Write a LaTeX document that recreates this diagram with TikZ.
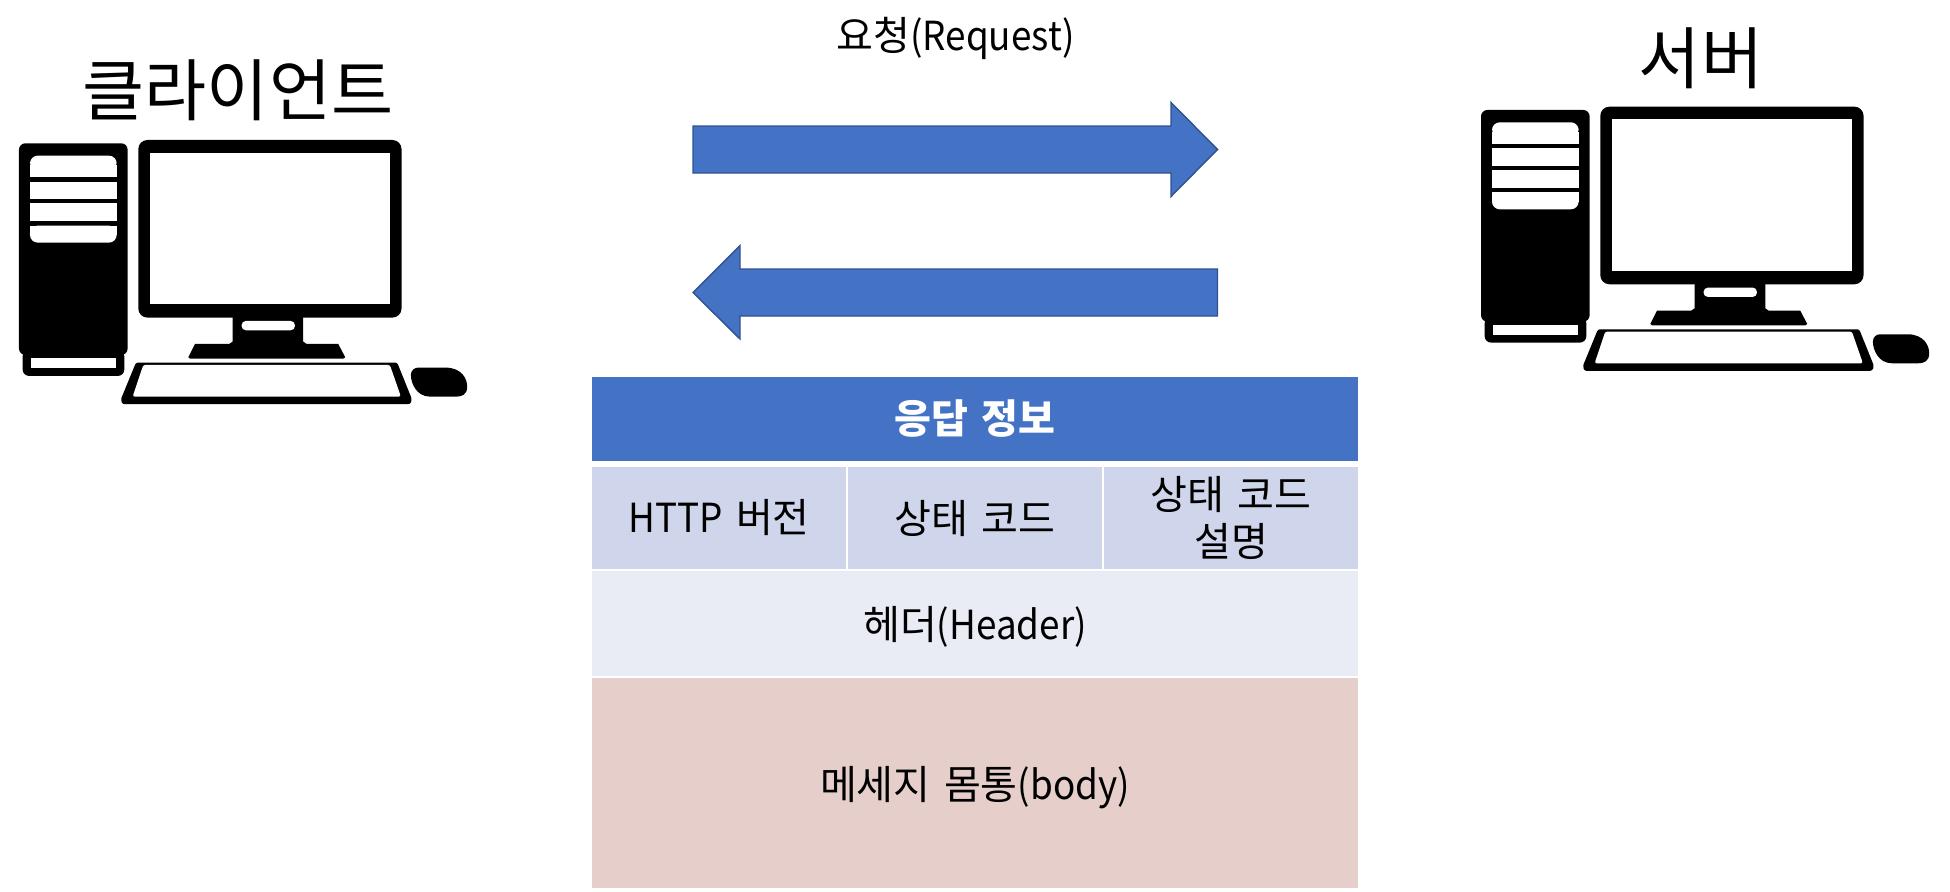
\documentclass[tikz,border=0pt]{standalone}
\usepackage{fontspec}
\setmainfont[WordSpace=1.5]{Noto Sans CJK KR}
\newfontfamily\latn[FakeStretch=0.92]{Noto Sans CJK KR}
\newcommand{\fsBody}{\fontsize{57}{67}\selectfont}
\newcommand{\fsBig}{\fontsize{96}{110}\selectfont}
\definecolor{hdrblue}{HTML}{4472C4}
\definecolor{arrowedge}{HTML}{2F528F}
\definecolor{rowa}{HTML}{CFD5EA}
\definecolor{rowb}{HTML}{E9EBF5}
\definecolor{rowc}{HTML}{E6CFCB}
\tikzset{
  cellbox/.style={inner sep=0pt,outer sep=0pt,align=center,text=black,font=\fsBody},
  bigtext/.style={inner sep=0pt,font=\fsBig,text=black},
  bodytext/.style={inner sep=0pt,font=\fsBody,text=black},
  blockarrow/.style={fill=hdrblue,draw=arrowedge,line width=2pt,line join=miter},
  pcicon/.pic={
    \begin{scope}[x=0.016667cm,y=-0.016667cm]
      % tower
      \fill[rounded corners=9pt] (68,690) rectangle (373,768);
      \fill[rounded corners=9pt] (57,70) rectangle (383,705);
      \fill[white] (93,714) rectangle (348,744);
      \fill[white,rounded corners=11pt] (90,150) |- (350,107) -- (350,150) -- cycle;
      \fill[white] (90,135) rectangle (350,172);
      \fill[white] (90,185) rectangle (350,238);
      \fill[white] (90,250) rectangle (350,304);
      \fill[white,rounded corners=11pt] (90,317) -- (90,368) -- (350,368) -- (350,317) -- cycle;
      \fill[white] (90,317) rectangle (350,345);
      % monitor
      \fill[rounded corners=13pt] (415,60) rectangle (1205,593);
      \fill[white] (449,98) rectangle (1170,553);
      % stand
      \fill (698,590) -- (910,590) -- (910,665) -- (920,672) -- (1015,672) -- (1036,712) -- (1030,716)
            -- (570,716) -- (565,712) -- (585,672) -- (688,672) -- (698,665) -- cycle;
      \fill[white,rounded corners=6pt] (725,603) rectangle (885,631);
      % keyboard
      \fill[rounded corners=3pt] (408,728) -- (1192,728) -- (1237,840) -- (1230,853) -- (368,853) -- (362,840) -- cycle;
      \fill[white,rounded corners=3pt] (430,735) -- (1170,735) -- (1203,830) -- (398,830) -- cycle;
      % mouse
      \fill (1255,743) -- (1340,743) .. controls (1385,745) and (1402,775) .. (1402,800)
            .. controls (1402,825) and (1385,830) .. (1370,830) -- (1290,830)
            .. controls (1250,830) and (1233,790) .. (1233,765)
            .. controls (1233,750) and (1245,743) .. (1255,743) -- cycle;
    \end{scope}
  }
}
\begin{document}
\begin{tikzpicture}[x=0.05cm,y=-0.05cm]
  \path[use as bounding box,fill=white] (0,0) rectangle (1950,892);

  % computers
  \pic at (0,120) {pcicon};
  \pic at (1462,86.67) {pcicon};
  \node[bigtext] (client) at (238,90) {클라이언트};
  \node[bigtext] (server) at (1701,58) {서버};

  % request / response arrows
  \node[bodytext] (req) at (955.5,38) {요청{\latn(Request)}};
  \draw[blockarrow] (693,126) -- (1171,126) -- (1171,102.5) -- (1217.5,149.5) -- (1171,196.5)
        -- (1171,173) -- (693,173) -- cycle;
  \draw[blockarrow] (1217.5,269) -- (740,269) -- (740,245.5) -- (693,292.5) -- (740,339)
        -- (740,316) -- (1217.5,316) -- cycle;

  % response table
  \node[cellbox,fill=hdrblue,text=white,font=\fsBody\bfseries,minimum width=766*0.05cm,minimum height=84*0.05cm] (hdr) at (975,418.7) {응답 정보};
  \node[cellbox,fill=rowa,minimum width=254*0.05cm,minimum height=102*0.05cm] (ver) at (719,518) {{\latn HTTP} 버전};
  \node[cellbox,fill=rowa,minimum width=254*0.05cm,minimum height=102*0.05cm] (code) at (975,518) {상태 코드};
  \node[cellbox,fill=rowa,minimum width=254*0.05cm,minimum height=102*0.05cm] (desc) at (1231,518) {상태 코드\\설명};
  \node[cellbox,fill=rowb,minimum width=766*0.05cm,minimum height=104.4*0.05cm] (head) at (975,623.5) {};
  \node[inner sep=0pt,font=\fsBody,text=black] (headt) at (975,627) {헤더{\latn(Header)}};
  \node[cellbox,fill=rowc,minimum width=766*0.05cm,minimum height=210.3*0.05cm] (body) at (975,782.8) {};
  \node[inner sep=0pt,font=\fsBody,text=black] (bodyt) at (975,788) {메세지 몸통{\latn(body)}};
\end{tikzpicture}
\end{document}
